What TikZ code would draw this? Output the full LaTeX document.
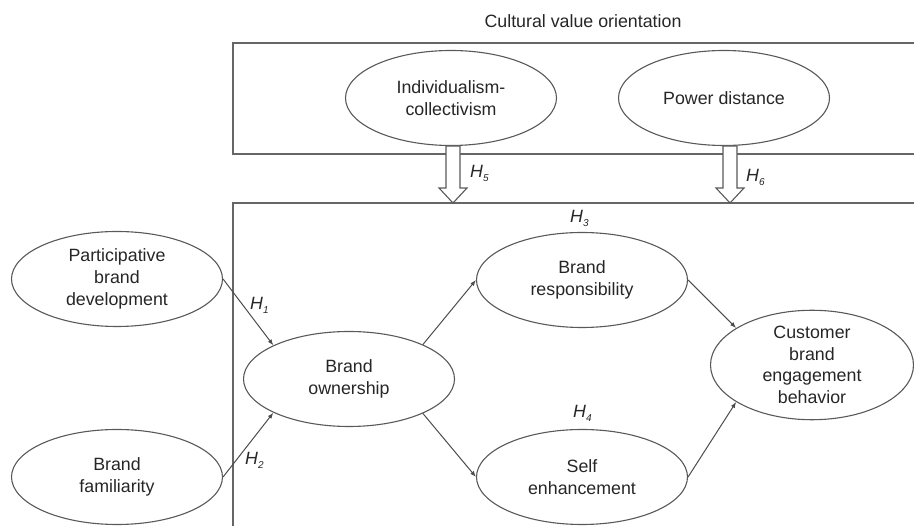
\documentclass[tikz,border=0pt]{standalone}
\usepackage{fontspec}
\setmainfont{Liberation Sans}
\usetikzlibrary{shapes.geometric,arrows.meta,positioning}
\tikzset{>/.tip={Latex[length=6pt,width=4.5pt]}}
\tikzset{construct/.style={ellipse,draw=black!65,line width=1.1pt,minimum width=211pt,minimum height=95pt,inner sep=0pt,align=center,font=\fontsize{17.8}{21.6}\selectfont}}
\tikzset{hyp/.style={anchor=west,inner sep=0pt,font=\fontsize{17.8}{20}\selectfont}}
\tikzset{frame/.style={draw=black!60,line width=1.3pt}}
\tikzset{bigarrow/.pic={\draw[black!65,line width=1.1pt,fill=white] (-7,0) -- (-7,42) -- (-14,42) -- (0,57) -- (14,42) -- (7,42) -- (7,0) -- cycle;}}
\newcommand{\hypo}[1]{\textit{H}\raisebox{-4pt}{\fontsize{10}{10}\selectfont\textit{#1}}}

\begin{document}
\begin{tikzpicture}[x=1pt,y=-1pt,text=black!85]
      \useasboundingbox (0,0) rectangle (914,526);
      % moderator frame and model frame
      \draw[frame] (914,43) -- (233,43) -- (233,154) -- (914,154);
      \draw[frame] (914,203) -- (233,203) -- (233,526);
      \node[font=\fontsize{17.8}{20}\selectfont](cvo) at (583,21){Cultural value orientation};

      \node[construct](ic) at (451,98){Individualism-\\collectivism};
      \node[construct](pd) at (724,98){Power distance};
      \pic at (453,146) {bigarrow};
      \pic at (730,146) {bigarrow};

      \node[construct](pbd) at (117,279){Participative\\brand\\development};
      \node[construct](bf) at (117,477){Brand\\familiarity};
      \node[construct](own) at (349,379){Brand\\ownership};
      \node[construct](resp) at (582,280){Brand\\responsibility};
      \node[construct](self) at (582,477){Self\\enhancement};
      \node[construct,minimum width=203pt](cbeb) at (812,365){Customer\\brand\\engagement\\behavior};

      \draw[->,black!70,line width=1pt] (pbd.east) -- (own.156);
      \draw[->,black!70,line width=1pt] (bf.east) -- (own.204);
      \draw[->,black!70,line width=1pt] (own.25) -- (resp.west);
      \draw[->,black!70,line width=1pt] (own.-25) -- (self.west);
      \draw[->,black!70,line width=1pt] (resp.east) -- (cbeb.154);
      \draw[->,black!70,line width=1pt] (self.east) -- (cbeb.206);

      \node[hyp](h1) at (250,305){\hypo{1}};
      \node[hyp](h2) at (245,460){\hypo{2}};
      \node[hyp](h3) at (570,218){\hypo{3}};
      \node[hyp](h4) at (573,413){\hypo{4}};
      \node[hyp](h5) at (470,173){\hypo{5}};
      \node[hyp](h6) at (746,177){\hypo{6}};
\end{tikzpicture}
\end{document}
